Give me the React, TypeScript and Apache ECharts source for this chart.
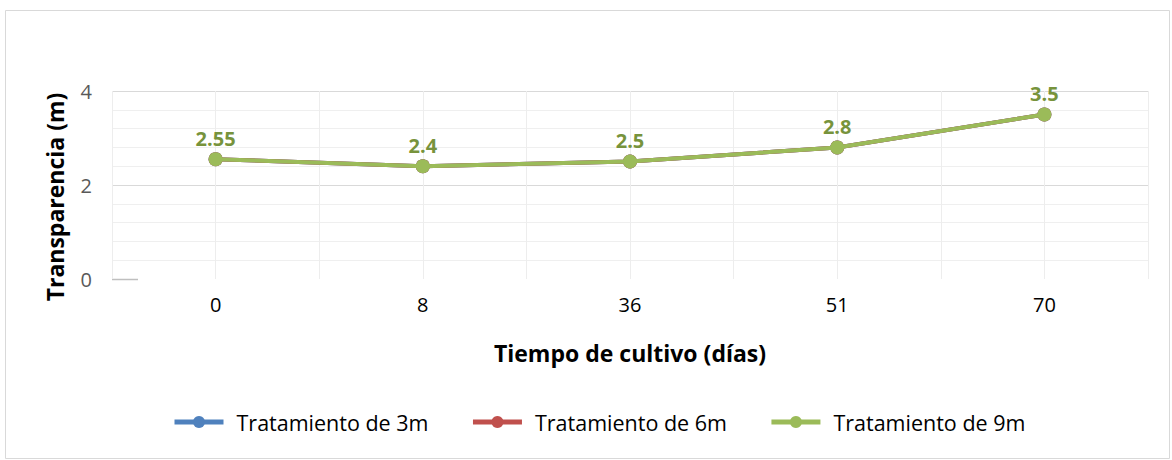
import React, { useEffect, useRef } from "react";
import * as echarts from "echarts";

const categories = ["0", "8", "36", "51", "70"];
const seriesNames = ["Tratamiento de 3m", "Tratamiento de 6m", "Tratamiento de 9m"];
const values3m = [2.55, 2.4, 2.5, 2.8, 3.5];
const values6m = [2.55, 2.4, 2.5, 2.8, 3.5];
const values9m = [2.55, 2.4, 2.5, 2.8, 3.5];
const colors = ["#4f81bd", "#c0504d", "#9bbb59"];
const yTicks = { min: 0, max: 4, interval: 2 };

const FONT = "'Open Sans', Lato, sans-serif";

export default function App() {
  const ref = useRef<HTMLDivElement>(null);
  useEffect(() => {
    if (!ref.current) return;
    const chart = echarts.init(ref.current, undefined, { renderer: "svg" });
    const dataSets = [values3m, values6m, values9m];
    chart.setOption({
      animation: false,
      backgroundColor: "#ffffff",
      textStyle: { fontFamily: FONT },
      grid: { left: 112, right: 24, top: 91, bottom: 181, containLabel: false },
      legend: {
        left: 167,
        top: 406,
        itemWidth: 49,
        itemHeight: 15,
        itemGap: 42,
        lineStyle: { width: 5 },
        textStyle: {
          fontSize: 21.5,
          color: "#000000",
          fontFamily: FONT,
          padding: [0, 0, 0, 8],
        },
        data: seriesNames,
      },
      xAxis: [
        {
          type: "category",
          data: categories,
          boundaryGap: true,
          axisLine: { show: false },
          axisTick: { show: false },
          splitLine: { show: false },
          axisLabel: { fontSize: 20, color: "#000000", margin: 15, fontFamily: FONT },
          name: "Tiempo de cultivo (días)",
          nameLocation: "middle",
          nameGap: 62,
          nameTextStyle: { fontSize: 23, fontWeight: "bold", color: "#000000", fontFamily: FONT },
        },
        {
          type: "value",
          min: 0,
          max: 10,
          interval: 1,
          position: "bottom",
          axisLine: { show: false },
          axisTick: { show: false },
          axisLabel: { show: false },
          splitLine: { show: true, lineStyle: { color: "#ededed", width: 1 } },
        },
      ],
      yAxis: {
        type: "value",
        min: yTicks.min,
        max: yTicks.max,
        interval: yTicks.interval,
        axisLine: { show: false },
        axisTick: { show: false },
        axisLabel: { fontSize: 20, color: "#595959", margin: 20, fontFamily: FONT },
        splitLine: {
          show: true,
          lineStyle: { color: ["rgba(0,0,0,0)", "#d9d9d9", "#d9d9d9"], width: 1 },
        },
        minorTick: { show: false, splitNumber: 5 },
        minorSplitLine: { show: true, lineStyle: { color: "#efefef", width: 1 } },
      },
      graphic: [
        {
          type: "rect",
          left: 3,
          top: 8,
          shape: { width: 1164, height: 448 },
          style: { fill: "none", stroke: "#d9d9d9", lineWidth: 1 },
          silent: true,
          z: -1,
        },
        {
          type: "line",
          shape: { x1: 112, y1: 279.5, x2: 138, y2: 279.5 },
          style: { stroke: "#bfbfbf", lineWidth: 1.5 },
          silent: true,
        },
        {
          type: "text",
          x: 55,
          y: 197,
          rotation: Math.PI / 2,
          style: {
            text: "Transparencia (m)",
            fontSize: 23,
            fontWeight: "bold",
            fill: "#000000",
            fontFamily: FONT,
            align: "center",
            verticalAlign: "middle",
          },
        },
      ],
      series: dataSets.map((d, i) => ({
        name: seriesNames[i],
        type: "line",
        data: d,
        xAxisIndex: 0,
        color: colors[i],
        symbol: "circle",
        symbolSize: 14,
        lineStyle: { width: 4, color: colors[i] },
        itemStyle: { color: colors[i] },
        label:
          i === 2
            ? {
                show: true,
                position: "top",
                distance: 4,
                fontSize: 20,
                fontWeight: "bold",
                color: "#77933c",
                fontFamily: FONT,
              }
            : { show: false },
        z: 2 + i,
      })),
    });
    return () => chart.dispose();
  }, []);
  return (
    <div
      ref={ref}
      style={{ position: "absolute", left: 0, top: 0, width: 1172, height: 460 }}
    />
  );
}
